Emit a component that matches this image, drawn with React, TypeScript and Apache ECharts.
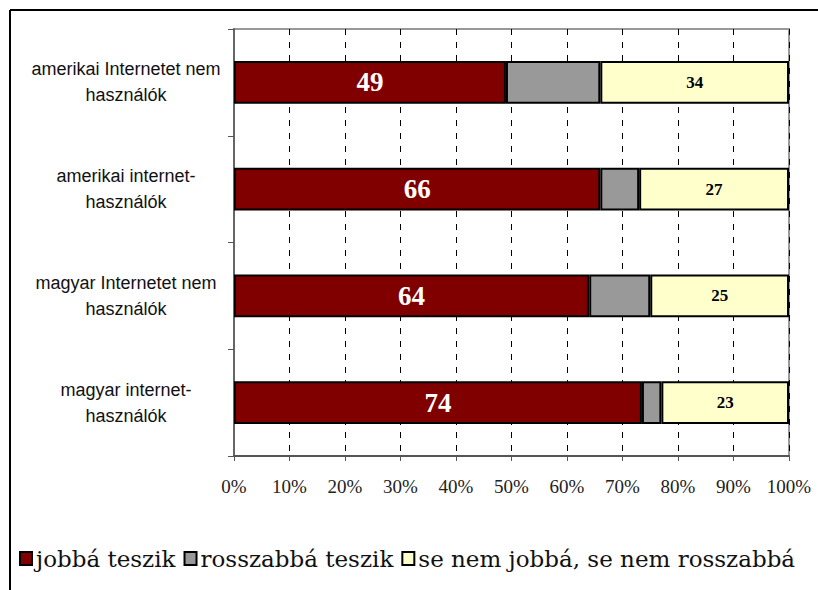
import React, { useEffect, useRef } from "react";
import * as echarts from "echarts";

const categories = [
  "amerikai Internetet nem\nhasználók",
  "amerikai internet-\nhasználók",
  "magyar Internetet nem\nhasználók",
  "magyar internet-\nhasználók",
];
const seriesNames = ["jobbá teszik", "rosszabbá teszik", "se nem jobbá, se nem rosszabbá"];
const better = [49, 66, 64, 73.5];
const worse = [17, 7, 11, 3.5];
const neither = [34, 27, 25, 23];
const xTicks = [0, 10, 20, 30, 40, 50, 60, 70, 80, 90, 100];

const SERIF = "'Liberation Serif', 'Times New Roman', serif";
const WIDE_SERIF = "'DejaVu Serif', serif";
const SANS = "'Liberation Sans', Arial, sans-serif";

export default function App() {
  const ref = useRef<HTMLDivElement>(null);
  useEffect(() => {
    if (!ref.current) return;
    const chart = echarts.init(ref.current, undefined, { renderer: "svg" });
    const mk = (name: string, data: number[], color: string, label: any) => ({
      name,
      type: "bar",
      stack: "total",
      data,
      barWidth: "40%",
      itemStyle: { color, borderColor: "#000", borderWidth: 2 },
      label,
    });
    chart.setOption({
      animation: false,
      backgroundColor: "#fff",
      grid: {
        left: 234,
        right: 29,
        top: 29,
        bottom: 134,
        show: true,
        borderColor: "#999",
        borderWidth: 2,
      },
      xAxis: {
        type: "value",
        min: xTicks[0],
        max: xTicks[xTicks.length - 1],
        interval: 10,
        axisLine: { show: true, lineStyle: { color: "#555", width: 2 } },
        axisTick: { show: true, length: 5, lineStyle: { color: "#555" } },
        axisLabel: {
          formatter: (v: number) => v + "%",
          fontFamily: SERIF,
          fontSize: 19,
          color: "#222",
          margin: 21,
        },
        splitLine: { show: true, lineStyle: { color: "#000", type: [6, 7], width: 1 } },
      },
      yAxis: {
        type: "category",
        inverse: true,
        data: categories,
        axisLine: { show: true, lineStyle: { color: "#666", width: 2 } },
        axisTick: { show: true, length: 6, lineStyle: { color: "#555" } },
        axisLabel: {
          fontFamily: SANS,
          fontSize: 18,
          color: "#111",
          align: "center",
          margin: 108,
          lineHeight: 26,
        },
      },
      legend: {
        left: 14,
        top: 542,
        icon: "rect",
        itemWidth: 12,
        itemHeight: 13,
        itemGap: 8,
        textStyle: { fontFamily: WIDE_SERIF, fontSize: 23, color: "#111", padding: [0, 0, 0, -1] },
        data: seriesNames,
      },
      graphic: [
        { type: "line", shape: { x1: 10, y1: 10, x2: 818, y2: 10 }, style: { stroke: "#000", lineWidth: 2 } },
        { type: "line", shape: { x1: 10, y1: 10, x2: 10, y2: 590 }, style: { stroke: "#000", lineWidth: 2 } },
      ],
      series: [
        mk(seriesNames[0], better, "#800000", {
          show: true,
          position: "inside",
          formatter: (p: any) => String(Math.round(p.value)),
          color: "#fff",
          fontFamily: SERIF,
          fontWeight: "bold",
          fontSize: 27,
        }),
        mk(seriesNames[1], worse, "#999999", { show: false }),
        mk(seriesNames[2], neither, "#FFFFCC", {
          show: true,
          position: "inside",
          formatter: (p: any) => String(Math.round(p.value)),
          color: "#000",
          fontFamily: SERIF,
          fontWeight: "bold",
          fontSize: 17,
        }),
      ],
    });
    return () => chart.dispose();
  }, []);
  return <div ref={ref} style={{ width: 818, height: 590, position: "absolute", left: 0, top: 0 }} />;
}
